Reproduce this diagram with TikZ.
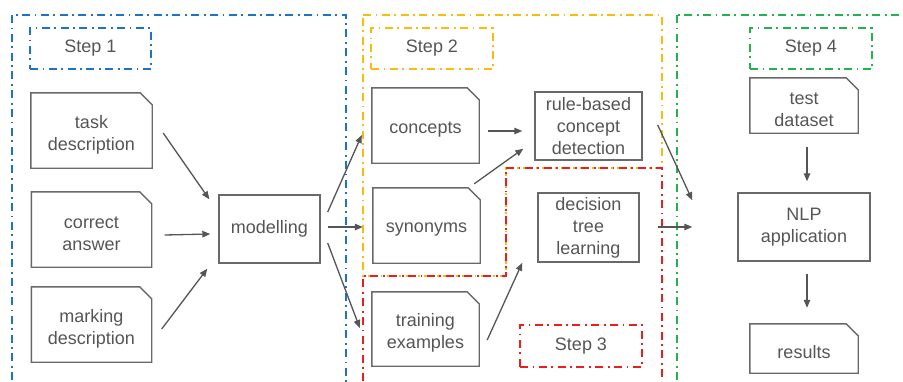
\documentclass[tikz,border=0pt]{standalone}
\usepackage{fontspec}
\setmainfont{Liberation Sans}
\usetikzlibrary{arrows.meta,calc}
\definecolor{bluec}{RGB}{28,115,200}
\definecolor{yellowc}{RGB}{250,188,10}
\definecolor{redc}{RGB}{235,30,30}
\definecolor{greenc}{RGB}{35,178,80}
\definecolor{boxgray}{RGB}{105,105,105}
\definecolor{arrowgray}{RGB}{85,85,85}
\definecolor{textgray}{RGB}{85,85,85}
\tikzset{
  lbl/.style={font=\fontsize{18}{22}\selectfont, text=textgray, align=center, inner sep=0pt},
  plainbox/.style={lbl, draw=boxgray, line width=1.4pt},
  docbox/.style={inner sep=0pt, label={[lbl, yshift=-4pt]center:#1}},
  boxline/.style={draw=boxgray, line width=1.4pt},
  dashdot/.style={line width=2pt, dash pattern=on 8pt off 4.5pt on 1.8pt off 4.5pt},
  stepbox/.style={lbl, draw=#1, dashdot},
  conn/.style={draw=arrowgray, line width=1.3pt, -{Triangle[length=8pt,width=6.5pt]}}
}
\newcommand\dogear[1]{\draw[boxline] (#1.south west) -- (#1.north west) -- ($(#1.north east)+(-12,0)$) -- ($(#1.north east)+(0,12)$) -- (#1.south east) -- cycle;}
\begin{document}
\begin{tikzpicture}[x=1pt,y=-1pt]
\useasboundingbox (0,0) rectangle (903,381);
\begin{scope}
\clip (0,0) rectangle (903,381);
\draw[bluec, dashdot] (12,15) rectangle (346,395);
\draw[yellowc, dashdot] (363,15) -- (662,15) -- (662,168) -- (506,168) -- (506,276) -- (363,276) -- cycle;
\draw[redc, dashdot] (506,168) -- (662,168) -- (662,395) -- (363,395) -- (363,276) -- (506,276) -- cycle;
\draw[greenc, dashdot] (677,15) rectangle (925,395);
\end{scope}

% step labels
\node[stepbox=bluec, minimum width=121, minimum height=41] (s1) at (90.5,48.5) {Step 1};
\node[stepbox=yellowc, minimum width=122, minimum height=41] (s2) at (432,48.5) {Step 2};
\node[stepbox=redc, minimum width=122, minimum height=42] (s3) at (581,346) {Step 3};
\node[stepbox=greenc, minimum width=122, minimum height=41] (s4) at (811,48.5) {Step 4};

% document boxes
\node[docbox={task\\description}, minimum width=121, minimum height=75] (task) at (91.5,130.5) {};
\node[docbox={correct\\answer}, minimum width=120, minimum height=75] (correct) at (91.5,229.5) {};
\node[docbox={marking\\description}, minimum width=120, minimum height=75] (marking) at (91.5,324.5) {};
\node[docbox={concepts}, minimum width=107, minimum height=75] (concepts) at (425.5,125.5) {};
\node[docbox={synonyms}, minimum width=107, minimum height=75] (synonyms) at (426.5,225.5) {};
\node[docbox={training\\examples}, minimum width=107, minimum height=74] (training) at (425.5,329) {};
\node[docbox={test\\dataset}, minimum width=108, minimum height=55] (test) at (804,105.5) {};
\node[docbox={results}, minimum width=108, minimum height=49] (results) at (804,348.5) {};
\foreach \n in {task,correct,marking,concepts,synonyms,training,test,results} {\dogear{\n}}

% process boxes
\node[plainbox, minimum width=101, minimum height=68] (model) at (269.5,229) {modelling};
\node[plainbox, minimum width=107, minimum height=68] (rule) at (588.5,126) {rule-based\\concept\\detection};
\node[plainbox, minimum width=101, minimum height=69] (decision) at (588.5,227.5) {decision\\tree\\learning};
\node[plainbox, minimum width=132, minimum height=68] (nlp) at (804,227) {NLP\\application};

% connectors
\draw[conn] ($(task.east)+(11,2.5)$) -- ($(model.north west)+(-9,5)$);
\draw[conn] ($(correct.east)+(13,5.5)$) -- ($(model.west)+(-8,5)$);
\draw[conn] ($(marking.east)+(10,4.5)$) -- ($(model.south west)+(-11,5)$);
\draw[conn] ($(model.east)+(7,-17)$) -- ($(concepts.west)+(-10,9.5)$);
\draw[conn] ($(model.east)+(7,-2)$) -- ($(synonyms.west)+(-10,1.5)$);
\draw[conn] ($(model.east)+(7,14)$) -- ($(training.west)+(-12,-1)$);
\draw[conn] ($(concepts.east)+(9,5.5)$) -- ($(rule.west)+(-12,5)$);
\draw[conn] ($(synonyms.north east)+(-6,-4)$) -- ($(rule.south west)+(-11,-12)$);
\draw[conn] ($(training.east)+(8,11)$) -- ($(decision.south west)+(-15,0)$);
\draw[conn] ($(rule.east)+(15,-1)$) -- ($(nlp.north west)+(-45,8)$);
\draw[conn] ($(decision.east)+(18,-0.5)$) -- ($(nlp.west)+(-45,0)$);
\draw[conn] ($(test.south)+(3,14)$) -- ($(nlp.north)+(3,-11)$);
\draw[conn] ($(nlp.south)+(3,12)$) -- ($(results.north)+(3,-16)$);
\end{tikzpicture}
\end{document}
